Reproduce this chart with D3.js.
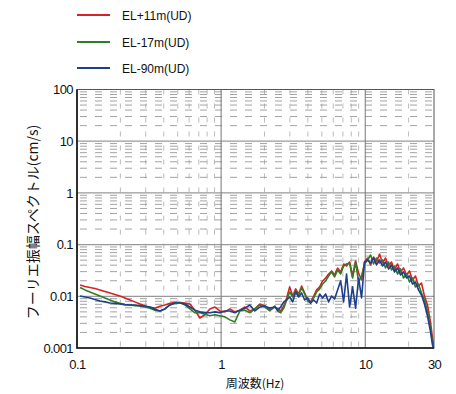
<!DOCTYPE html>
<html><head><meta charset="utf-8">
<script src="https://cdn.jsdelivr.net/npm/d3@7"></script>
<style>body{margin:0;background:#fff}svg{display:block}</style>
</head><body>
<svg id="c" width="456" height="394"></svg>
<script>
const freqs = [0.105,0.1136,0.123,0.1332,0.1443,0.1563,0.1693,0.1833,0.1986,0.2151,0.233,0.2523,0.2733,0.296,0.3206,0.3473,0.3761,0.4074,0.4412,0.4779,0.5176,0.5606,0.6072,0.6577,0.7123,0.7715,0.8356,0.9051,0.9803,1.062,1.15,1.246,1.349,1.461,1.583,1.714,1.857,2.011,2.178,2.359,
2.47,2.59,2.72,2.85,2.99,3.14,3.29,3.45,3.62,3.8,3.99,4.18,4.39,4.6,4.83,5.06,5.31,5.57,5.84,6.13,6.43,6.75,7.08,7.42,7.79,8.17,8.57,8.99,9.43,9.89,10.38,10.89,11.42,11.98,12.57,13.18,13.83,14.51,15.22,15.96,16.75,17.57,18.43,19.33,20.28,21.27,22.31,23.41,24.56,25.76,27.02,28.35,29.3,29.8];
const seriesNames = ["EL+11m(UD)","EL-17m(UD)","EL-90m(UD)"];
const red = [0.0166,0.0155,0.0148,0.0142,0.0133,0.0124,0.0116,0.0108,0.0101,0.0093,0.0085,0.0078,0.0071,0.0065,0.0061,0.0059,0.0064,0.0068,0.0073,0.0076,0.0076,0.0074,0.0071,0.0054,0.0038,0.0044,0.0057,0.0062,0.0052,0.005,0.0057,0.005,0.0054,0.0062,0.0052,0.0057,0.0071,0.0065,0.0054,0.0062,
0.0057,0.0052,0.0065,0.0093,0.0152,0.0101,0.0139,0.0111,0.0158,0.0116,0.0085,0.0078,0.0101,0.0133,0.0152,0.0198,0.0226,0.027,0.0309,0.0259,0.0353,0.0296,0.0422,0.0386,0.0461,0.0247,0.0482,0.0283,0.0207,0.0461,0.0551,0.0404,0.0576,0.0461,0.0659,0.0441,0.0551,0.0386,0.0461,0.0323,0.0422,0.0296,0.0353,0.0259,0.0309,0.0207,0.0247,0.0158,0.0181,0.0101,0.0068,0.0032,0.00156,0.00109];
const green = [0.0148,0.0133,0.0121,0.0111,0.0101,0.0093,0.0085,0.0078,0.0073,0.0069,0.0068,0.0066,0.0065,0.0062,0.0059,0.0054,0.0052,0.0057,0.0068,0.0074,0.0076,0.0068,0.0057,0.0048,0.0048,0.0045,0.0042,0.0044,0.0042,0.004,0.0035,0.0032,0.0052,0.0054,0.0048,0.0057,0.0068,0.0062,0.0052,0.0065,
0.0052,0.0048,0.0059,0.0085,0.0121,0.0097,0.0127,0.0106,0.0145,0.0111,0.0081,0.0074,0.0093,0.0121,0.0139,0.0173,0.0198,0.0247,0.0296,0.0237,0.0323,0.027,0.0386,0.0422,0.0441,0.0226,0.0461,0.0189,0.0247,0.0422,0.0504,0.063,0.0422,0.0551,0.0441,0.0504,0.0353,0.0461,0.0323,0.0386,0.027,0.0338,0.0226,0.027,0.0189,0.0226,0.0152,0.0173,0.0116,0.0085,0.0052,0.0024,0.0013,0.001];
const blue = [0.0101,0.0097,0.0093,0.0087,0.0081,0.0078,0.0074,0.0073,0.0071,0.0069,0.0068,0.0068,0.0066,0.0065,0.0062,0.0056,0.0052,0.0057,0.0068,0.0074,0.0074,0.0071,0.0062,0.0054,0.005,0.0048,0.0048,0.005,0.0048,0.0052,0.0052,0.0048,0.0054,0.0059,0.0068,0.0052,0.0062,0.0065,0.0059,0.0062,
0.0054,0.0062,0.0078,0.0085,0.0097,0.0078,0.0121,0.0097,0.0116,0.0085,0.0093,0.0074,0.0085,0.0074,0.0111,0.0093,0.0111,0.0078,0.0101,0.0089,0.0133,0.0198,0.0078,0.027,0.0062,0.0152,0.0059,0.0226,0.0093,0.0461,0.0504,0.0441,0.0551,0.0404,0.0504,0.0386,0.0461,0.0338,0.0404,0.0296,0.0353,0.0259,0.0296,0.0226,0.0247,0.0173,0.0189,0.0133,0.0106,0.0071,0.0042,0.0021,0.00114,0.001];
const yTicks = [0.001,0.01,0.1,1,10,100];
const yTickLabels = ["0.001","0.01","0.1","1","10","100"];
const xTicks = [0.1,1,10,30];
const xTickLabels = ["0.1","1","10","30"];
const colors = ["#d62424","#2f7d27","#1c3f8f"];

const svg = d3.select("#c");
const L=77,R=434,T=89.5,B=348;
const x = d3.scaleLog().domain([0.1,30]).range([L,R]);
const y = d3.scaleLog().domain([0.001,100]).range([B,T]);
const font = "'Liberation Sans', Arial, sans-serif";

// minor grids
const minorY=[], minorX=[];
for (let e=-3;e<2;e++) for (let k=2;k<=9;k++) minorY.push(k*Math.pow(10,e));
for (let e=-1;e<2;e++) for (let k=2;k<=9;k++){const v=k*Math.pow(10,e); if(v<30) minorX.push(v);}
const g = svg.append("g");
g.selectAll(".mx").data(minorX).join("line")
  .attr("x1",d=>x(d)).attr("x2",d=>x(d)).attr("y1",T).attr("y2",B)
  .attr("stroke","#aaa").attr("stroke-width",0.8).attr("stroke-dasharray","5,9");
g.selectAll(".my").data(minorY).join("line")
  .attr("x1",L).attr("x2",R).attr("y1",d=>y(d)).attr("y2",d=>y(d))
  .attr("stroke","#999").attr("stroke-width",0.9).attr("stroke-dasharray","7,8").attr("stroke-dashoffset",-3);
g.selectAll(".My").data([0.01,0.1,1,10]).join("line")
  .attr("x1",L).attr("x2",R).attr("y1",d=>y(d)).attr("y2",d=>y(d))
  .attr("stroke","#999").attr("stroke-width",1.2);
g.selectAll(".Mx").data([1,10]).join("line")
  .attr("x1",d=>x(d)).attr("x2",d=>x(d)).attr("y1",T).attr("y2",B)
  .attr("stroke","#777").attr("stroke-width",1);

// lines
const line = d3.line().x((d,i)=>x(freqs[i])).y(d=>y(Math.max(d,0.001)));
svg.append("clipPath").attr("id","cp").append("rect").attr("x",L).attr("y",T).attr("width",R-L).attr("height",B-T);
[red,green,blue].forEach((s,i)=>{
  svg.append("path").datum(s).attr("d",line).attr("fill","none")
    .attr("stroke",colors[i]).attr("stroke-width",1.6).attr("stroke-linejoin","round")
    .attr("clip-path","url(#cp)");
});

// frame
svg.append("rect").attr("x",L).attr("y",T).attr("width",R-L).attr("height",B-T)
  .attr("fill","none").attr("stroke","#555").attr("stroke-width",1);
svg.append("path").attr("d",`M${L},${T}V${B}H${R}`).attr("fill","none").attr("stroke","#111").attr("stroke-width",1.6);

// axes labels
const ya = d3.axisLeft(y).tickValues(yTicks).tickSize(0).tickPadding(4).tickFormat((d,i)=>yTickLabels[i]);
const yg = svg.append("g").attr("transform",`translate(${L},0)`).call(ya);
yg.select(".domain").remove();
yg.selectAll("text").attr("font-family",font).attr("font-size",13).attr("fill","#111").attr("letter-spacing",-0.6);
const xa = d3.axisBottom(x).tickValues(xTicks).tickSize(0).tickPadding(12).tickFormat((d,i)=>xTickLabels[i]);
const xg = svg.append("g").attr("transform",`translate(0,${B})`).call(xa);
xg.select(".domain").remove();
xg.selectAll("text").attr("font-family",font).attr("font-size",13).attr("fill","#111").attr("letter-spacing",-0.6);

svg.append("text").attr("x",255).attr("y",388).attr("text-anchor","middle")
  .attr("font-family","'Noto Sans CJK JP', sans-serif").attr("font-size",12).attr("fill","#111").text("周波数(Hz)");
svg.append("text").attr("transform","translate(38,222) rotate(-90)").attr("text-anchor","middle")
  .attr("font-family","'Noto Sans CJK JP', sans-serif").attr("font-size",14).attr("fill","#111").text("フーリエ振幅スペクトル(cm/s)");

// legend
const ly=[15,42,68];
seriesNames.forEach((n,i)=>{
  svg.append("line").attr("x1",77).attr("x2",110).attr("y1",ly[i]).attr("y2",ly[i]).attr("stroke",colors[i]).attr("stroke-width",1.8);
  svg.append("text").attr("x",122).attr("y",ly[i]+4.5).attr("font-family",font).attr("font-size",12).attr("fill","#111").text(n);
});
</script>
</body></html>
